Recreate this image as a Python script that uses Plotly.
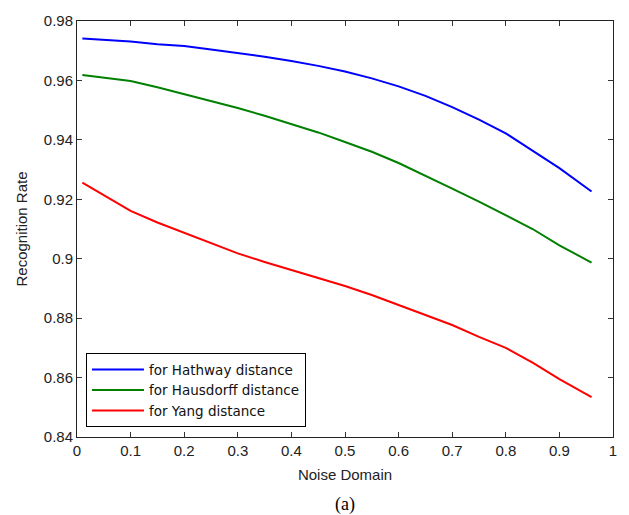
import plotly.graph_objects as go

noise = [0.01, 0.05, 0.1, 0.15, 0.2, 0.25, 0.3, 0.35, 0.4, 0.45, 0.5, 0.55, 0.6, 0.65, 0.7, 0.75, 0.8, 0.85, 0.9, 0.96]
hathway = [0.9741, 0.9737, 0.9731, 0.9722, 0.9716, 0.9704, 0.9693, 0.9680, 0.9665, 0.9649, 0.9630, 0.9607, 0.9580, 0.9548, 0.9510, 0.9468, 0.9422, 0.9363, 0.9305, 0.9226]
hausdorff = [0.9618, 0.9610, 0.9598, 0.9577, 0.9554, 0.9530, 0.9507, 0.9481, 0.9454, 0.9425, 0.9393, 0.9360, 0.9322, 0.9280, 0.9236, 0.9192, 0.9147, 0.9100, 0.9045, 0.8987]
yang = [0.9256, 0.9214, 0.9161, 0.9122, 0.9087, 0.9051, 0.9018, 0.8989, 0.8962, 0.8934, 0.8908, 0.8878, 0.8845, 0.8812, 0.8777, 0.8737, 0.8700, 0.8650, 0.8595, 0.8534]

series = [
    ("for Hathway distance", hathway, "#0000ff"),
    ("for Hausdorff distance", hausdorff, "#008000"),
    ("for Yang distance", yang, "#ff0000"),
]

x_ticks = [0, 0.1, 0.2, 0.3, 0.4, 0.5, 0.6, 0.7, 0.8, 0.9, 1]
x_tick_text = ["0", "0.1", "0.2", "0.3", "0.4", "0.5", "0.6", "0.7", "0.8", "0.9", "1"]
y_ticks = [0.84, 0.86, 0.88, 0.9, 0.92, 0.94, 0.96, 0.98]
y_tick_text = ["0.84", "0.86", "0.88", "0.9", "0.92", "0.94", "0.96", "0.98"]

fig = go.Figure()
for name, vals, col in series:
    fig.add_trace(go.Scatter(x=noise, y=vals, mode="lines", name=name,
                             line=dict(color=col, width=2)))

SANS = "Liberation Sans, Arial, sans-serif"
font = dict(family=SANS, size=15, color="#222222")

fig.update_layout(
    width=629, height=515,
    margin=dict(l=77, r=12, t=15, b=78),
    paper_bgcolor="white", plot_bgcolor="white",
    font=font,
    showlegend=True,
    legend=dict(x=0.0167, y=0.0237, xanchor="left", yanchor="bottom",
                bgcolor="white", bordercolor="black", borderwidth=1,
                font=dict(family="DejaVu Sans, sans-serif", size=13.5, color="#111111"),
                itemwidth=52, tracegroupgap=0),
    xaxis=dict(range=[0, 1], tickvals=x_ticks, ticktext=x_tick_text,
               ticks="inside", ticklen=5, tickcolor="#333333",
               tickfont=dict(size=15),
               showline=True, linecolor="#222222", linewidth=1, mirror="ticks",
               showgrid=False, zeroline=False,
               title=dict(text="Noise Domain", standoff=11, font=dict(size=15))),
    yaxis=dict(range=[0.84, 0.98], tickvals=y_ticks, ticktext=y_tick_text,
               ticks="inside", ticklen=5, tickcolor="#333333",
               tickfont=dict(size=15),
               showline=True, linecolor="#222222", linewidth=1, mirror="ticks",
               showgrid=False, zeroline=False,
               title=dict(text="Recognition Rate", standoff=12, font=dict(size=15))),
    annotations=[dict(text="(a)", xref="paper", yref="paper", x=0.5, y=-0.163,
                      xanchor="center", yanchor="middle", showarrow=False,
                      font=dict(family="Liberation Serif, Times New Roman, serif", size=18, color="black"))],
)

fig.write_html("out.html")
